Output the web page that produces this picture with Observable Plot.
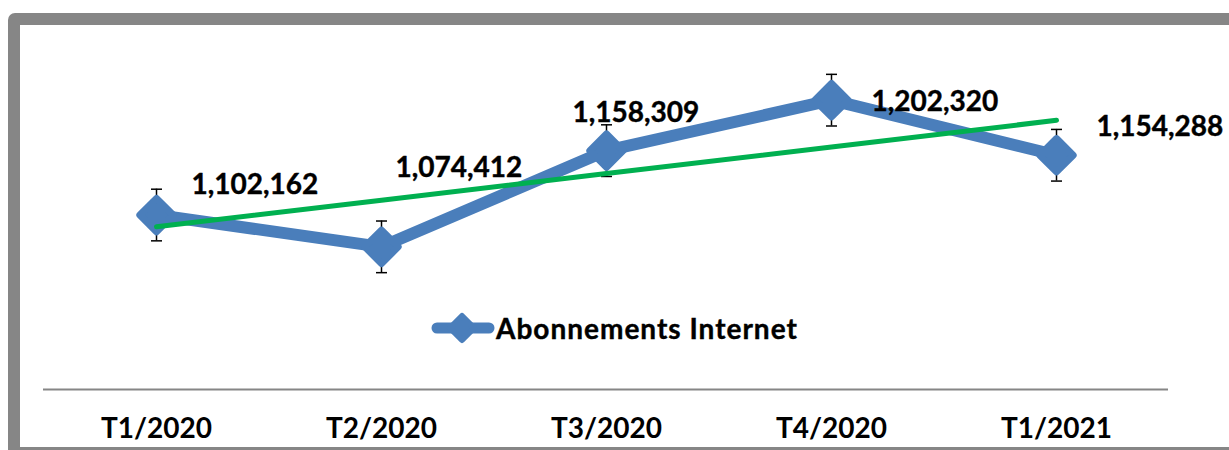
<!DOCTYPE html>
<html>
<head>
<meta charset="utf-8">
<script src="https://cdn.jsdelivr.net/npm/d3@7"></script>
<script src="https://cdn.jsdelivr.net/npm/@observablehq/plot@0.6"></script>
<style>
  html, body { margin: 0; padding: 0; background: #fff; }
  #wrap { position: relative; width: 1229px; height: 450px; overflow: hidden; font-family: Lato, "Open Sans", sans-serif; }
  #frame { position: absolute; left: 8px; top: 13px; width: 1400px; height: 446px; box-sizing: border-box;
           border: 12px solid #868686; border-radius: 7px; }
  #chart { position: absolute; left: 0; top: 0; }
  #legend { position: absolute; left: 431px; top: 311px; height: 34px; display: flex; align-items: center;
            font-weight: bold; font-size: 28px; letter-spacing: 1px; color: #000; white-space: nowrap;
            -webkit-text-stroke: 0.4px #000; }
  #legend svg { display: block; margin-right: 1px; }
</style>
</head>
<body>
<div id="wrap">
  <div id="frame"></div>
  <div id="chart"></div>
  <div id="legend"></div>
</div>
<script>
// Data
const quarters = ["T1/2020", "T2/2020", "T3/2020", "T4/2020", "T1/2021"];
const subscriptions = [1102162, 1074412, 1158309, 1202320, 1154288];
const seriesName = "Abonnements Internet";

const data = quarters.map((q, i) => ({q, v: subscriptions[i], i}));

// Standard error (Excel-style error bars)
const n = subscriptions.length;
const mean = d3.mean(subscriptions);
const se = d3.deviation(subscriptions) / Math.sqrt(n);

// Linear trend line (least squares on index)
const xm = (n - 1) / 2;
const slope = d3.sum(data, d => (d.i - xm) * (d.v - mean)) / d3.sum(data, d => (d.i - xm) ** 2);
const trend = data.map(d => ({q: d.q, v: mean + slope * (d.i - xm)}));

const blue = "#4A7EBB";
const green = "#00B050";
const font = "Lato, 'Open Sans', sans-serif";

// label offsets (manual placement as in the original)
const labelOffsets = [[35, -30], [14, -79], [-34, -38], [40, 2], [40, -28]];

const capSymbol = {
  draw(ctx, size) {
    const r = Math.sqrt(size / Math.PI);
    ctx.moveTo(-r, 0); ctx.lineTo(r, 0);
  }
};

const fmt = d3.format(",");

const plot = Plot.plot({
  width: 1229,
  height: 450,
  marginLeft: 43,
  marginRight: 61,
  marginTop: 45,
  marginBottom: 61,
  style: {background: "transparent", fontFamily: font, overflow: "visible"},
  x: {type: "point", domain: quarters, padding: 0.5, label: null},
  y: {domain: [950000, 1250000], axis: null},
  marks: [
    Plot.ruleY([950000], {stroke: "#868686", strokeWidth: 2}),
    Plot.axisX({tickSize: 0, tickPadding: 29, fontSize: 28, fontWeight: "bold", fill: "#000", stroke: "#000", strokeWidth: 0.4, label: null}),
    // error bars
    Plot.ruleX(data, {x: "q", y1: d => d.v - se, y2: d => d.v + se, stroke: "#000", strokeWidth: 1.5}),
    Plot.dot(data, {x: "q", y: d => d.v + se, symbol: capSymbol, r: 5.5, stroke: "#000", strokeWidth: 1.5}),
    Plot.dot(data, {x: "q", y: d => d.v - se, symbol: capSymbol, r: 5.5, stroke: "#000", strokeWidth: 1.5}),
    // series line
    Plot.line(data, {x: "q", y: "v", stroke: blue, strokeWidth: 12, strokeLinejoin: "round", strokeLinecap: "round"}),
    Plot.dot(data, {x: "q", y: "v", symbol: "diamond2", r: 15, fill: blue, stroke: blue, strokeWidth: 7, strokeLinejoin: "round"}),
    // trend line
    Plot.line(trend, {x: "q", y: "v", stroke: green, strokeWidth: 5, strokeLinecap: "round"}),
    // data labels
    ...data.map((d, i) => Plot.text([d], {
      x: "q", y: "v", text: d => fmt(d.v),
      dx: labelOffsets[i][0], dy: labelOffsets[i][1],
      textAnchor: "start", fontSize: 28, fontWeight: "bold", fill: "#000", stroke: "#000", strokeWidth: 0.4
    }))
  ]
});
document.getElementById("chart").appendChild(plot);

// Legend
const leg = document.getElementById("legend");
leg.innerHTML = `<svg width="64" height="34" viewBox="0 0 64 34">
  <line x1="6" y1="17" x2="58" y2="17" stroke="${blue}" stroke-width="11" stroke-linecap="round"/>
  <path d="M31 5 L43 17 L31 29 L19 17 Z" fill="${blue}" stroke="${blue}" stroke-width="6" stroke-linejoin="round"/>
</svg><span>${seriesName}</span>`;
</script>
</body>
</html>
